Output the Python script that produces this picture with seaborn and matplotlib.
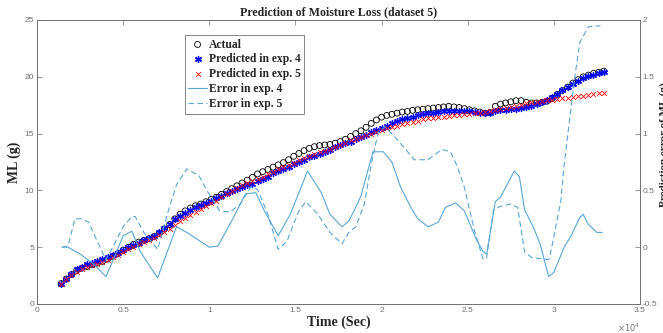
import numpy as np
import pandas as pd
import matplotlib
matplotlib.use("Agg")
import matplotlib.pyplot as plt
from matplotlib.ticker import FuncFormatter
import seaborn as sns

# ---------------- data ----------------
time_s = np.arange(1400, 33000, 300)  # sampling grid (s)

actual = [1.8, 2.2, 2.6, 2.95, 3.15, 3.3, 3.45, 3.6, 3.75, 3.95,
          4.2, 4.45, 4.75, 5.0, 5.25, 5.45, 5.6, 5.75, 5.95, 6.2,
          6.6, 7.0, 7.5, 7.9, 8.2, 8.45, 8.65, 8.8, 9.0, 9.2,
          9.4, 9.65, 9.9, 10.15, 10.4, 10.65, 10.9, 11.15, 11.45, 11.65,
          11.85, 12.05, 12.25, 12.45, 12.7, 13.0, 13.25, 13.5, 13.7, 13.85,
          13.95, 14.0, 14.05, 14.15, 14.3, 14.5, 14.75, 15.0, 15.25, 15.55,
          15.9, 16.2, 16.45, 16.6, 16.7, 16.8, 16.9, 16.95, 17.05, 17.1,
          17.15, 17.2, 17.25, 17.3, 17.35, 17.4, 17.35, 17.3, 17.2, 17.1,
          17.0, 16.9, 16.8, 16.85, 17.4, 17.6, 17.7, 17.8, 17.9, 17.9,
          17.75, 17.7, 17.7, 17.75, 17.85, 18.1, 18.45, 18.8, 19.1, 19.45,
          19.75, 20.0, 20.15, 20.3, 20.4, 20.5]

pred_exp4 = [1.8, 2.2, 2.6, 3.1, 3.3, 3.5, 3.65, 3.8, 3.95, 4.1,
             4.3, 4.5, 4.75, 5.0, 5.2, 5.4, 5.6, 5.8, 6.0, 6.3,
             6.65, 7.0, 7.45, 7.75, 8.0, 8.25, 8.5, 8.7, 8.9, 9.1,
             9.3, 9.5, 9.75, 9.95, 10.15, 10.3, 10.5, 10.6, 10.8, 11.0,
             11.2, 11.5, 11.7, 11.9, 12.1, 12.3, 12.5, 12.7, 12.9, 13.0,
             13.2, 13.4, 13.6, 13.8, 14.0, 14.15, 14.3, 14.5, 14.7, 14.9,
             15.1, 15.3, 15.5, 15.7, 15.9, 16.1, 16.25, 16.4, 16.5, 16.6,
             16.7, 16.8, 16.85, 16.9, 16.95, 17.0, 17.0, 17.0, 17.0, 16.95,
             16.9, 16.85, 16.8, 16.85, 16.95, 17.05, 17.1, 17.15, 17.2, 17.25,
             17.3, 17.4, 17.6, 17.8, 18.0, 18.2, 18.5, 18.8, 19.1, 19.4,
             19.65, 19.9, 20.05, 20.2, 20.3, 20.4]

pred_exp5 = [1.8, 2.2, 2.55, 2.85, 3.05, 3.25, 3.4, 3.55, 3.7, 3.9,
             4.1, 4.35, 4.6, 4.85, 5.05, 5.25, 5.45, 5.65, 5.85, 6.05,
             6.3, 6.6, 6.95, 7.3, 7.6, 7.85, 8.1, 8.35, 8.6, 8.85,
             9.1, 9.4, 9.7, 9.95, 10.2, 10.45, 10.65, 10.85, 11.0, 11.2,
             11.4, 11.65, 11.85, 12.05, 12.25, 12.45, 12.65, 12.85, 13.05, 13.2,
             13.35, 13.5, 13.65, 13.85, 14.0, 14.2, 14.4, 14.55, 14.7, 14.85,
             15.0, 15.15, 15.3, 15.45, 15.6, 15.7, 15.85, 15.95, 16.05, 16.15,
             16.25, 16.35, 16.4, 16.45, 16.5, 16.55, 16.6, 16.65, 16.7, 16.75,
             16.8, 16.85, 16.9, 16.95, 17.05, 17.15, 17.25, 17.35, 17.45, 17.55,
             17.65, 17.75, 17.8, 17.9, 17.95, 18.0, 18.05, 18.1, 18.15, 18.2,
             18.3, 18.35, 18.4, 18.45, 18.55, 18.6]

err4_t = [1450, 1800, 2500, 3300, 4000, 4400, 5000, 5500, 6000, 7000,
          8100, 8700, 9500, 10000, 10500, 11400, 12100, 12700, 13200, 14000,
          14700, 15700, 16500, 17000, 17700, 18100, 18400, 18800, 19500, 20100,
          20600, 21100, 21700, 22100, 22700, 23300, 23700, 24300, 24800, 25500,
          25900, 26100, 26600, 26900, 27700, 28000, 28300, 28800, 29200, 29700,
          30000, 30600, 31000, 31500, 31700, 32000, 32500, 32800]
err4 = [0.0, 0.0, -0.06, -0.15, -0.26, -0.12, 0.10, 0.14, -0.04, -0.27,
        0.18, 0.13, 0.05, 0.0, 0.01, 0.26, 0.47, 0.48, 0.32, 0.10,
        0.29, 0.67, 0.48, 0.29, 0.18, 0.23, 0.32, 0.45, 0.84, 0.84,
        0.75, 0.53, 0.35, 0.25, 0.18, 0.22, 0.35, 0.39, 0.32, 0.07,
        -0.04, -0.06, 0.40, 0.44, 0.67, 0.62, 0.33, 0.18, 0.03, -0.26,
        -0.22, 0.0, 0.10, 0.26, 0.29, 0.20, 0.13, 0.13]

err5_t = [1450, 1800, 2200, 2600, 3000, 3500, 4000, 4500, 5000, 5500,
          5700, 6200, 6900, 7000, 7600, 8100, 8700, 9400, 9900, 10600,
          11200, 11800, 12400, 12800, 13400, 14000, 14500, 15200, 15600, 16300,
          17000, 17700, 18100, 18500, 19000, 19400, 19800, 20200, 20900, 21900,
          22700, 23500, 24000, 24400, 24800, 25400, 25900, 26100, 26500, 26900,
          27500, 27900, 28300, 28700, 29700, 29800, 30400, 30600, 31200, 31500,
          32000, 32700]
err5 = [0.0, 0.01, 0.25, 0.25, 0.22, 0.05, -0.11, 0.03, 0.18, 0.27,
        0.27, 0.13, 0.0, -0.02, 0.31, 0.55, 0.69, 0.63, 0.49, 0.32,
        0.31, 0.38, 0.53, 0.51, 0.29, -0.02, 0.05, 0.32, 0.40, 0.29,
        0.13, 0.03, 0.13, 0.18, 0.38, 0.73, 1.01, 1.06, 0.95, 0.77,
        0.77, 0.86, 0.84, 0.71, 0.53, 0.14, -0.11, -0.09, 0.33, 0.36,
        0.38, 0.35, -0.04, -0.09, -0.11, -0.06, 0.40, 0.73, 1.48, 1.80,
        1.94, 1.95]

x_ticks = [0, 5000, 10000, 15000, 20000, 25000, 30000, 35000]
y_ticks = [0, 5, 10, 15, 20, 25]
y2_ticks = [-0.5, 0, 0.5, 1, 1.5, 2]

labels = ["Actual", "Predicted in exp. 4", "Predicted in exp. 5",
          "Error in exp. 4", "Error in exp. 5"]

# ---------------- style ----------------
sns.set_style("white")
plt.rcParams["font.family"] = ["Liberation Sans", "DejaVu Sans"]
serif = ["Liberation Serif", "DejaVu Serif"]
gray = "#707070"
line_col = "#5aa7d6"

fig = plt.figure(figsize=(6.63, 3.33), dpi=100)
ax = fig.add_axes([37 / 663, 1 - 304 / 333, 603 / 663, 284 / 333])

df = pd.DataFrame({"t": time_s, "actual": actual,
                   "p4": pred_exp4, "p5": pred_exp5})

sns.scatterplot(data=df, x="t", y="actual", ax=ax, marker="o", s=18,
                facecolor="none", edgecolor="black", linewidth=0.6,
                label=labels[0], zorder=3)
sns.scatterplot(data=df, x="t", y="p4", ax=ax, marker=(6, 2, 0), s=18,
                color="blue", edgecolor="blue", linewidth=1.0,
                label=labels[1], zorder=4)
sns.scatterplot(data=df, x="t", y="p5", ax=ax, marker="x", s=12,
                color="red", linewidth=0.6, label=labels[2], zorder=5)

ax2 = ax.twinx()
sns.lineplot(x=err4_t, y=err4, ax=ax2, color=line_col, lw=0.8,
             sort=False, label=labels[3])
sns.lineplot(x=err5_t, y=err5, ax=ax2, color=line_col, lw=0.8,
             sort=False, label=labels[4], dashes=False)
ax2.lines[-1].set_dashes((5, 3))

ax.set_xlim(0, 35000)
ax.set_ylim(0, 25)
ax2.set_ylim(-0.5, 2)
ax.set_xticks(x_ticks)
ax.set_yticks(y_ticks)
ax2.set_yticks(y2_ticks)
ax.xaxis.set_major_formatter(FuncFormatter(lambda v, p: f"{v / 1e4:g}"))
ax.yaxis.set_major_formatter(FuncFormatter(lambda v, p: f"{v:g}"))
ax2.yaxis.set_major_formatter(FuncFormatter(lambda v, p: f"{v:g}"))

for a in (ax, ax2):
    for s in a.spines.values():
        s.set_color(gray)
        s.set_linewidth(0.6)
    a.tick_params(direction="in", length=3.5, width=0.5, colors=gray,
                  labelsize=6, pad=2)
ax.tick_params(axis="x", top=True)
ax.tick_params(axis="y", right=False)

ax.set_title("Prediction of Moisture Loss (dataset 5)", family=serif,
             fontweight="bold", fontsize=8.6, pad=3.5)
ax.set_xlabel("Time (Sec)", family=serif, fontweight="bold", fontsize=10,
              labelpad=1)
ax.set_ylabel("ML (g)", family=serif, fontweight="bold", fontsize=10,
              labelpad=3)
ax2.set_ylabel("")
ax.text(1.0, -0.062, r"$\times10^{4}$", transform=ax.transAxes,
        ha="right", va="top", fontsize=6, color=gray)
fig.text(0.9945, 0.567, "Prediction error of ML (g)", rotation=90,
         ha="left", va="center", family=serif, fontweight="bold",
         fontsize=8)

h1, l1 = ax.get_legend_handles_labels()
h2, l2 = ax2.get_legend_handles_labels()
if ax2.get_legend() is not None:
    ax2.get_legend().remove()
if ax.get_legend() is not None:
    ax.get_legend().remove()
leg = ax2.legend(h1 + h2, l1 + l2, loc="upper left",
                 bbox_to_anchor=(0.245, 0.947), borderaxespad=0,
                 prop={"family": serif, "weight": "bold", "size": 8.4},
                 frameon=True, fancybox=False, framealpha=1,
                 edgecolor=gray, handlelength=1.6, handletextpad=0.15,
                 labelspacing=0.25, borderpad=0.3)
leg.get_frame().set_linewidth(0.6)

fig.savefig("out.png", dpi=100)
